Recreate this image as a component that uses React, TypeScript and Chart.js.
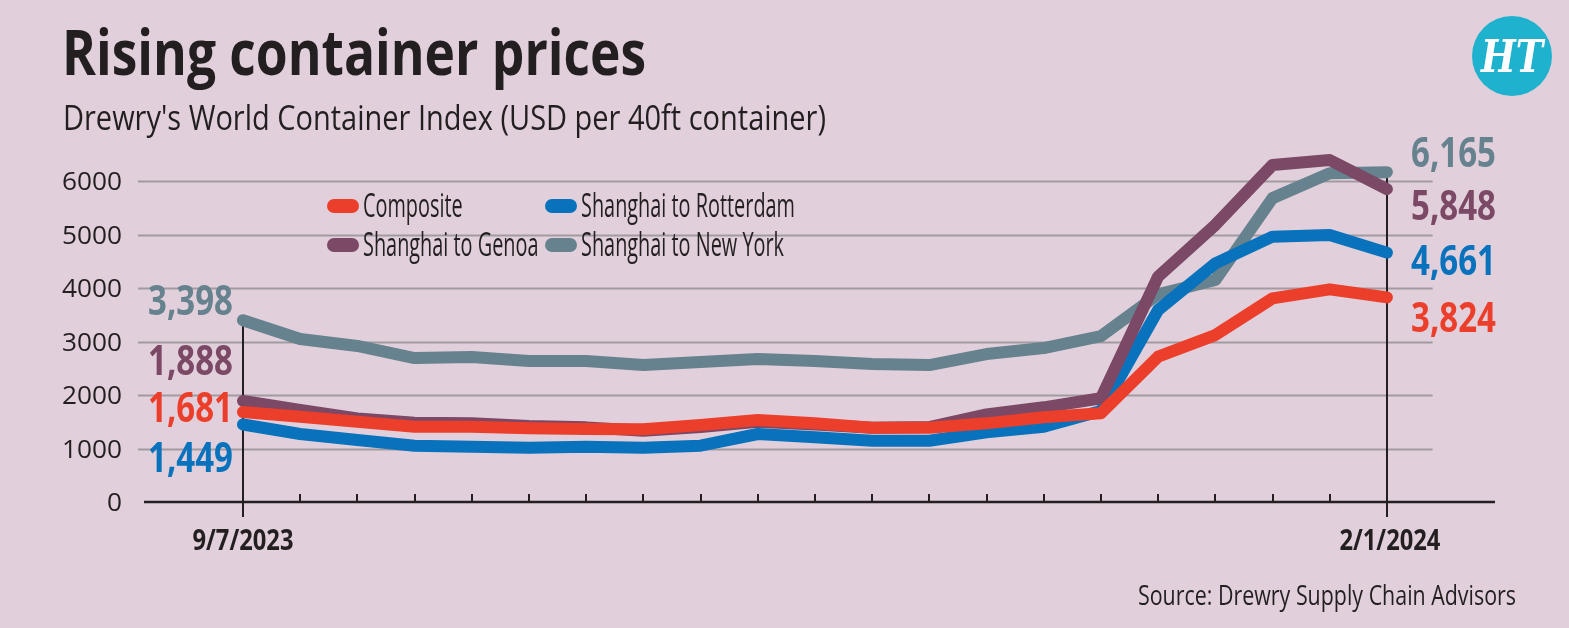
import React, { useEffect, useRef } from "react";
import { Chart, registerables } from "chart.js";
Chart.register(...registerables);

// ---- Data ----
const dates = [
  "9/7/2023", "9/21/2023", "9/28/2023", "10/5/2023", "10/12/2023", "10/19/2023", "10/26/2023",
  "11/2/2023", "11/9/2023", "11/16/2023", "11/23/2023", "11/30/2023", "12/7/2023", "12/14/2023",
  "12/21/2023", "12/28/2023", "1/4/2024", "1/11/2024", "1/18/2024", "1/25/2024", "2/1/2024",
];
const composite = [1681, 1595, 1501, 1408, 1408, 1377, 1365, 1358, 1439, 1533, 1470, 1389, 1389, 1470, 1583, 1657, 2716, 3121, 3807, 3975, 3824];
const rotterdam = [1449, 1271, 1159, 1053, 1034, 1015, 1034, 1015, 1053, 1271, 1209, 1146, 1146, 1302, 1408, 1700, 3589, 4461, 4960, 4991, 4661];
const genoa = [1888, 1720, 1560, 1483, 1470, 1420, 1395, 1330, 1400, 1500, 1450, 1390, 1400, 1638, 1770, 1940, 4212, 5178, 6299, 6393, 5848];
const newYork = [3398, 3047, 2916, 2690, 2710, 2636, 2636, 2560, 2617, 2673, 2636, 2580, 2560, 2766, 2878, 3100, 3880, 4150, 5680, 6143, 6165];
const yTicks = [0, 1000, 2000, 3000, 4000, 5000, 6000];
const seriesNames = ["Composite", "Shanghai to Rotterdam", "Shanghai to Genoa", "Shanghai to New York"];

const RED = "#EC3F2B";
const BLUE = "#0872BC";
const PURPLE = "#7B4866";
const GRAY = "#66828E";
const BG = "#E1D0DB";
const INK = "#231F20";
const GRID = "#A29AA1";

const FONT = "'Open Sans', 'DejaVu Sans', sans-serif";

function fitText(
  ctx: CanvasRenderingContext2D, text: string, x: number, y: number,
  font: string, color: string, width: number, align: "left" | "right" | "center" = "left"
) {
  ctx.save();
  ctx.font = font;
  ctx.fillStyle = color;
  ctx.textBaseline = "alphabetic";
  ctx.textAlign = "left";
  const w = ctx.measureText(text).width;
  const s = width / w;
  const left = align === "left" ? x : align === "right" ? x - width : x - width / 2;
  ctx.translate(left, y);
  ctx.scale(s, 1);
  ctx.fillText(text, 0, 0);
  ctx.restore();
}

function scaledText(
  ctx: CanvasRenderingContext2D, text: string, x: number, y: number,
  font: string, color: string, sx: number, align: "left" | "right" | "center" = "left"
) {
  ctx.save();
  ctx.font = font;
  const w = ctx.measureText(text).width * sx;
  ctx.restore();
  fitText(ctx, text, x, y, font, color, w, align);
}

function scaleFor(ctx: CanvasRenderingContext2D, text: string, font: string, width: number) {
  ctx.save();
  ctx.font = font;
  const w = ctx.measureText(text).width;
  ctx.restore();
  return width / w;
}

const fmt = (v: number) => v.toLocaleString("en-US");

export default function App() {
  const ref = useRef<HTMLCanvasElement | null>(null);

  useEffect(() => {
    document.body.style.margin = "0";
    document.body.style.background = BG;
    const canvas = ref.current!;
    const series = [
      { name: seriesNames[0], data: composite, color: RED, order: 0 },
      { name: seriesNames[1], data: rotterdam, color: BLUE, order: 2 },
      { name: seriesNames[2], data: genoa, color: PURPLE, order: 1 },
      { name: seriesNames[3], data: newYork, color: GRAY, order: 3 },
    ];

    const decor = {
      id: "decor",
      beforeDraw(chart: any) {
        const ctx: CanvasRenderingContext2D = chart.ctx;
        const { left, right, bottom } = chart.chartArea;
        const xs = chart.scales.x;
        const ys = chart.scales.y;
        ctx.save();
        ctx.fillStyle = BG;
        ctx.fillRect(0, 0, chart.width, chart.height);

        // grid lines
        const gridRight = xs.getPixelForValue(dates.length - 1 + 0.8);
        ctx.strokeStyle = GRID;
        ctx.lineWidth = 2;
        yTicks.forEach((t) => {
          if (t === 0) return;
          const y = Math.round(ys.getPixelForValue(t)) + 0.5;
          ctx.beginPath();
          ctx.moveTo(left - 2, y);
          ctx.lineTo(gridRight, y);
          ctx.stroke();
        });

        // y tick labels
        const tickFont = `400 25px ${FONT}`;
        const tsx = scaleFor(ctx, "6000", tickFont, 60);
        yTicks.forEach((t) => {
          const y = ys.getPixelForValue(t);
          scaledText(ctx, String(t), 122, y + 9, tickFont, INK, tsx, "right");
        });

        // vertical lines at first and last
        ctx.strokeStyle = INK;
        ctx.lineWidth = 2;
        [0, dates.length - 1].forEach((i) => {
          const x = Math.round(xs.getPixelForValue(i));
          ctx.beginPath();
          ctx.moveTo(x, ys.getPixelForValue(newYork[i]));
          ctx.lineTo(x, bottom + 15);
          ctx.stroke();
        });

        // x axis
        ctx.lineWidth = 2.5;
        ctx.beginPath();
        ctx.moveTo(left + 4, bottom);
        ctx.lineTo(right, bottom);
        ctx.stroke();
        ctx.lineWidth = 2;
        for (let i = 1; i < dates.length - 1; i++) {
          const x = Math.round(xs.getPixelForValue(i));
          ctx.beginPath();
          ctx.moveTo(x, bottom);
          ctx.lineTo(x, bottom - 8);
          ctx.stroke();
        }

        // x labels
        const xFont = `700 28px ${FONT}`;
        const xsx = scaleFor(ctx, dates[0], xFont, 101);
        scaledText(ctx, dates[0], xs.getPixelForValue(0), 550, xFont, INK, xsx, "center");
        scaledText(ctx, dates[dates.length - 1], xs.getPixelForValue(dates.length - 1) + 3, 550, xFont, INK, xsx, "center");

        // title / subtitle / source
        fitText(ctx, "Rising container prices", 62, 75, `700 62px ${FONT}`, INK, 584);
        fitText(ctx, "Drewry's World Container Index (USD per 40ft container)", 63, 130, `400 35px ${FONT}`, INK, 763);
        fitText(ctx, "Source: Drewry Supply Chain Advisors", 1138, 605, `400 28px ${FONT}`, INK, 378);

        // logo
        ctx.fillStyle = "#1FB2CE";
        ctx.beginPath();
        ctx.arc(1512, 56, 40, 0, Math.PI * 2);
        ctx.fill();
        fitText(ctx, "HT", 1512, 72, `italic 700 44px 'DejaVu Serif', serif`, "#FFFFFF", 62, "center");

        // legend
        const legFont = `400 32px ${FONT}`;
        const lsx = scaleFor(ctx, "Shanghai to Rotterdam", legFont, 214);
        const items = [
          { s: series[0], px: 327, tx: 363, y: 217 },
          { s: series[1], px: 545, tx: 581, y: 217 },
          { s: series[2], px: 327, tx: 363, y: 256 },
          { s: series[3], px: 545, tx: 581, y: 256 },
        ];
        items.forEach(({ s, px, tx, y }) => {
          ctx.fillStyle = s.color;
          ctx.beginPath();
          (ctx as any).roundRect(px, y - 18, 32, 14, 7);
          ctx.fill();
          scaledText(ctx, s.name, tx, y, legFont, INK, lsx, "left");
        });
        ctx.restore();
      },
      afterDatasetsDraw(chart: any) {
        const ctx: CanvasRenderingContext2D = chart.ctx;
        const endFont = `700 41px ${FONT}`;
        const esx = scaleFor(ctx, "5,848", endFont, 85);
        const leftLabels = [
          { v: newYork[0], c: GRAY, y: 315 },
          { v: genoa[0], c: PURPLE, y: 375 },
          { v: composite[0], c: RED, y: 422 },
          { v: rotterdam[0], c: BLUE, y: 472 },
        ];
        leftLabels.forEach((l) => scaledText(ctx, fmt(l.v), 148, l.y, endFont, l.c, esx, "left"));
        const n = dates.length - 1;
        const rightLabels = [
          { v: newYork[n], c: GRAY, y: 167 },
          { v: genoa[n], c: PURPLE, y: 220 },
          { v: rotterdam[n], c: BLUE, y: 275 },
          { v: composite[n], c: RED, y: 332 },
        ];
        rightLabels.forEach((l) => scaledText(ctx, fmt(l.v), 1411, l.y, endFont, l.c, esx, "left"));
      },
    };

    const chart = new Chart(canvas, {
      type: "line",
      data: {
        datasets: series.map((s) => ({
          label: s.name,
          data: s.data.map((v, i) => ({ x: i, y: v })),
          borderColor: s.color,
          backgroundColor: s.color,
          borderWidth: 12,
          borderCapStyle: "round",
          borderJoinStyle: "round",
          pointRadius: 0,
          tension: 0,
          clip: false,
          order: s.order,
        })) as any,
      },
      options: {
        responsive: false,
        animation: false,
        layout: { padding: { left: 140, right: 74, top: 181, bottom: 126 } },
        scales: {
          x: { type: "linear", min: -1.8, max: 21.89, display: false },
          y: { type: "linear", min: 0, max: 6000, display: false },
        },
        plugins: { legend: { display: false }, tooltip: { enabled: false }, title: { display: false } },
        events: [],
      },
      plugins: [decor],
    });
    return () => chart.destroy();
  }, []);

  return (
    <div style={{ width: 1569, height: 628, background: BG }}>
      <canvas ref={ref} width={1569} height={628} style={{ display: "block", width: 1569, height: 628 }} />
    </div>
  );
}
